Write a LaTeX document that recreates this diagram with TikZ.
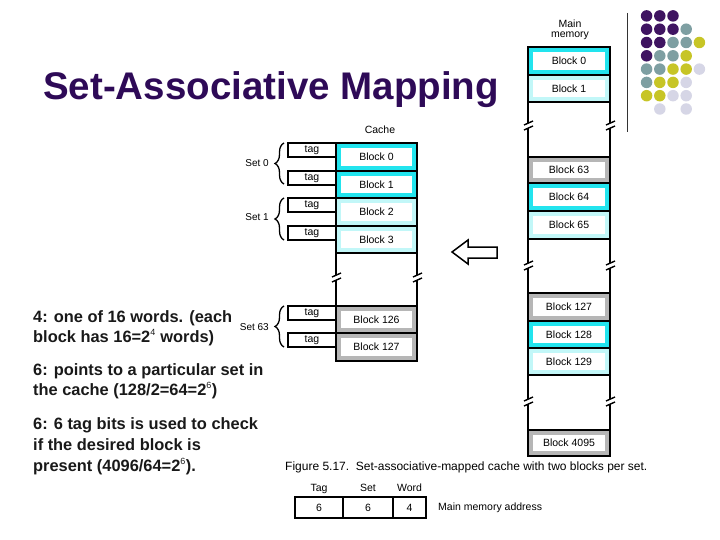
\documentclass[tikz,border=0pt]{standalone}
\usepackage{fontspec}
\setmainfont{Liberation Sans}
\usetikzlibrary{decorations.pathreplacing}
\definecolor{cyanA}{HTML}{22E4EE}
\definecolor{cyanB}{HTML}{C2F7F8}
\definecolor{grayA}{HTML}{B6B6B6}
\definecolor{titlepurple}{HTML}{2E0A57}
\definecolor{dotP}{HTML}{3F1461}
\definecolor{dotT}{HTML}{7E9FA2}
\definecolor{dotY}{HTML}{C7C526}
\definecolor{dotL}{HTML}{D6D6E6}
\newcommand{\brkcol}[4]{% x, yc, ytop, ybot
  \draw[col] (#1,#3) -- (#1,#2-2.8);
  \draw[col] (#1,#2+2.2) -- (#1,#4);
  \draw[brkm] (#1-4,#2-1) -- (#1+5,#2-5);
  \draw[brkm] (#1-4,#2+4) -- (#1+5,#2);
}
\newcommand{\supsm}[1]{\textsuperscript{\mdseries\fontsize{9}{9}\selectfont #1}}
\begin{document}
\begin{tikzpicture}[x=1pt,y=-1pt,
  col/.style={line width=1.6pt, black},
  brkm/.style={line width=1.4pt, black},
  blk/.style={draw=black, line width=1.5pt, minimum width=82pt, minimum height=#1,
    inner sep=0pt, font=\fontsize{10.5}{12}\selectfont,
    path picture={\fill[white] ([shift={(5pt,-5pt)}]path picture bounding box.north west)
      rectangle ([shift={(-5pt,5pt)}]path picture bounding box.south east);}},
  tagbox/.style={draw=black, line width=1.4pt, minimum width=48pt, minimum height=14pt,
    inner sep=0pt, font=\fontsize{10.5}{12}\selectfont},
  setlbl/.style={anchor=east, inner sep=0pt, font=\fontsize{10}{12}\selectfont},
  brc/.style={decorate, decoration={brace, amplitude=9pt}, line width=1.3pt},
  ltxt/.style={anchor=base west, inner sep=0pt, font=\bfseries\fontsize{16.4}{19}\selectfont, text=black!90},
  small/.style={inner sep=0pt, font=\fontsize{10.5}{12}\selectfont},
  addrbox/.style={draw=black, line width=1.4pt, minimum height=21pt, inner sep=0pt,
    font=\fontsize{10.5}{12}\selectfont},
  dot/.style={circle, inner sep=0pt, minimum size=11.5pt}
]
\useasboundingbox (0,0) rectangle (720,540);

% Title
\node[anchor=base west, inner sep=0pt, font=\bfseries\fontsize{38.5}{40}\selectfont, text=titlepurple] (title) at (43,100) {Set-Associative Mapping};

% separator and dots
\draw[line width=1pt, black!80] (627,13) -- (627,132);
\foreach \c/\r/\cl [count=\i] in {
  1/1/dotP,2/1/dotP,3/1/dotP,
  1/2/dotP,2/2/dotP,3/2/dotP,4/2/dotT,
  1/3/dotP,2/3/dotP,3/3/dotT,4/3/dotT,5/3/dotY,
  1/4/dotP,2/4/dotT,3/4/dotT,4/4/dotY,
  1/5/dotT,2/5/dotT,3/5/dotY,4/5/dotY,5/5/dotL,
  1/6/dotT,2/6/dotY,3/6/dotY,4/6/dotL,
  1/7/dotY,2/7/dotY,3/7/dotL,4/7/dotL,
  2/8/dotL,4/8/dotL}
  \node[dot, fill=\cl] (d\i) at ({633.4+13.2*\c},{2.6+13.3*\r}) {};

% Main memory
\node[small, align=center, font=\fontsize{10.5}{10.5}\selectfont] (mmlbl) at (570,30) {Main\\memory};
\node[blk=28pt, fill=cyanA] (mb0) at (569,61) {Block 0};
\node[blk=27pt, fill=cyanB] (mb1) at (569,88.5) {Block 1};
\brkcol{528}{126}{102}{157}
\brkcol{610}{126}{102}{157}
\node[blk=26pt, fill=grayA] (mb63) at (569,170) {Block 63};
\node[blk=28pt, fill=cyanA] (mb64) at (569,197) {Block 64};
\node[blk=28pt, fill=cyanB] (mb65) at (569,225) {Block 65};
\brkcol{528}{266}{239}{293}
\brkcol{610}{266}{239}{293}
\node[blk=28pt, fill=grayA] (mb127) at (569,307) {Block 127};
\node[blk=27pt, fill=cyanA] (mb128) at (569,334.5) {Block 128};
\node[blk=27pt, fill=cyanB] (mb129) at (569,361.5) {Block 129};
\brkcol{528}{402}{375}{430}
\brkcol{610}{402}{375}{430}
\node[blk=26pt, fill=grayA] (mb4095) at (569,443) {Block 4095};

% Cache
\node[small] (cachelbl) at (380,130) {Cache};
\node[blk=28pt, fill=cyanA, minimum width=81pt] (cb0) at (376.5,157) {Block 0};
\node[blk=27pt, fill=cyanA, minimum width=81pt] (cb1) at (376.5,184.5) {Block 1};
\node[blk=28pt, fill=cyanB, minimum width=81pt] (cb2) at (376.5,212) {Block 2};
\node[blk=27pt, fill=cyanB, minimum width=81pt] (cb3) at (376.5,239.5) {Block 3};
\brkcol{336}{278}{253}{306}
\brkcol{417}{278}{253}{306}
\node[blk=27pt, fill=grayA, minimum width=81pt] (cb126) at (376.5,319.5) {Block 126};
\node[blk=28pt, fill=grayA, minimum width=81pt] (cb127) at (376.5,347) {Block 127};

\node[tagbox] (t0) at (312,150) {tag};
\node[tagbox] (t1) at (312,178) {tag};
\node[tagbox] (t2) at (312,205) {tag};
\node[tagbox] (t3) at (312,233) {tag};
\node[tagbox] (t126) at (312,313) {tag};
\node[tagbox] (t127) at (312,340) {tag};

% sets
\node[setlbl] (s0) at (269,163) {Set 0};
\draw[brc] (284,184) -- (284,143);
\node[setlbl] (s1) at (269,217) {Set 1};
\draw[brc] (284,240) -- (284,198);
\node[setlbl] (s63) at (269,327) {Set 63};
\draw[brc] (284,347) -- (284,306);

% arrow
\draw[line width=1.5pt, fill=white, line join=miter]
  (452,252) -- (468,240) -- (468,247) -- (497,247) -- (497,258) -- (468,258) -- (468,264) -- cycle;

% left texts
\node[ltxt] (l1) at (33,322) {4: one of 16 words. (each};
\node[ltxt] (l2) at (33,342) {block has 16=2\supsm{4} words)};
\node[ltxt] (l3) at (33,375) {6: points to a particular set in};
\node[ltxt] (l4) at (33,395) {the cache (128/2=64=2\supsm{6})};
\node[ltxt] (l5) at (33,429) {6: 6 tag bits is used to check};
\node[ltxt] (l6) at (33,450) {if the desired block is};
\node[ltxt] (l7) at (33,471) {present (4096/64=2\supsm{6}).};

% caption
\node[anchor=base west, inner sep=0pt, font=\fontsize{12}{14}\selectfont] (cap) at (285,470) {Figure 5.17.\ \ Set-associative-mapped cache with two blocks per set.};

% address
\node[small, anchor=base] (htag) at (319,491) {Tag};
\node[small, anchor=base] (hset) at (368,491) {Set};
\node[small, anchor=base] (hword) at (409.5,491) {Word};
\node[addrbox, minimum width=48pt] (a1) at (319,507.5) {6};
\node[addrbox, minimum width=50pt] (a2) at (368,507.5) {6};
\node[addrbox, minimum width=33pt] (a3) at (409.5,507.5) {4};
\node[small, anchor=west] (mma) at (438,508) {Main memory address};
\end{tikzpicture}
\end{document}
